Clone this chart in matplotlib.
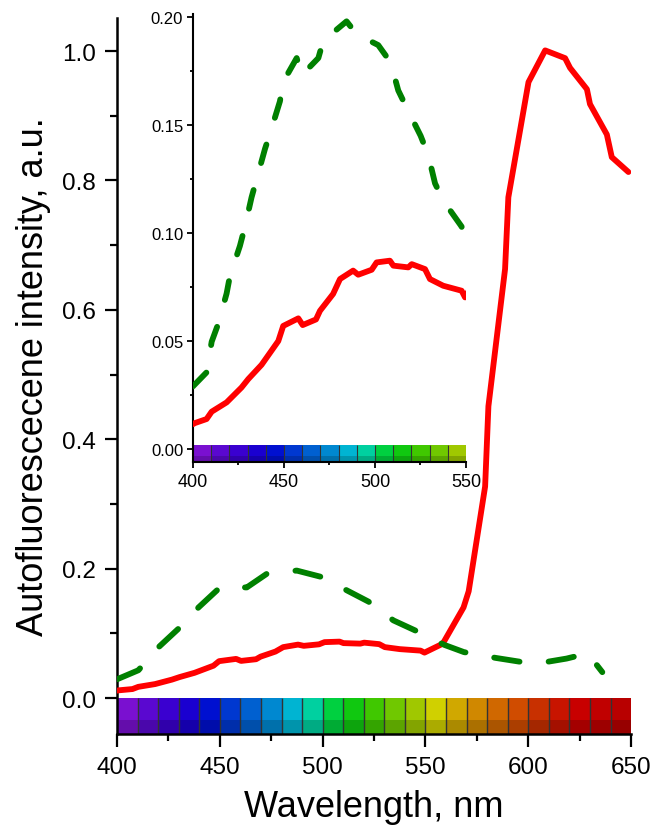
import numpy as np
import matplotlib
matplotlib.use("Agg")
import matplotlib.pyplot as plt
from matplotlib.ticker import MultipleLocator, FormatStrFormatter
from matplotlib.colors import to_rgb

plt.rcParams["font.family"] = ["Liberation Sans", "DejaVu Sans"]

# autofluorescence spectrum, solid red
red_nm = [400, 401, 407.5, 410.3, 418.5, 426.7, 430.4, 437.7, 446.9, 449.6,
          457.9, 460.3, 467.6, 469.8, 477, 480.8, 488, 490.8, 498.2, 500.9,
          508.2, 510.1, 518.3, 520.2, 527.5, 530.2, 537.5, 547.6, 549.5,
          558.4, 568.5, 571, 579, 580.6, 588.7, 590.3, 600.1, 608.2, 617.9,
          620.3, 628.5, 630, 638.2, 640.6, 648.7]
red_val = [0.0115, 0.012, 0.0139, 0.0173, 0.0216, 0.0285, 0.0324, 0.039, 0.050, 0.057,
           0.0605, 0.0574, 0.060, 0.064, 0.0718, 0.0787, 0.0826, 0.0807, 0.083, 0.0864,
           0.0872, 0.0849, 0.0841, 0.0856, 0.0833, 0.0787, 0.0756, 0.0733, 0.0702,
           0.084, 0.140, 0.165, 0.327, 0.451, 0.663, 0.774, 0.952, 1.001, 0.989,
           0.974, 0.941, 0.918, 0.871, 0.836, 0.813]

# second spectrum, dashed green (full range)
green_nm = [400, 410.4, 419.3, 429.8, 439.6, 450.1, 463.1, 472.8, 487.4, 499.6,
            512, 522.3, 534.4, 546, 559.3, 568.7, 584.2, 596.2, 607.4, 618.6,
            628.9, 636]
green_val = [0.029, 0.043, 0.076, 0.107, 0.140, 0.171, 0.171, 0.192, 0.197, 0.187,
             0.166, 0.149, 0.120, 0.103, 0.082, 0.071, 0.062, 0.056, 0.055, 0.061,
             0.069, 0.040]

# same spectrum at finer sampling, 400-550 nm
green_fine_nm = [400, 407.5, 410.3, 413.9, 418.5, 420.3, 425.8, 428.6, 432.2, 435,
                 439.6, 442.7, 447.8, 449.6, 457, 459.7, 468.9, 471.6, 484.4, 490,
                 501.8, 508.6, 512.8, 517.4, 525.1, 529.3, 533, 537.5, 547.6, 550]
green_fine_val = [0.029, 0.0355, 0.0497, 0.058, 0.072, 0.080, 0.094, 0.103, 0.1165, 0.125,
                  0.139, 0.147, 0.161, 0.170, 0.181, 0.173, 0.181, 0.189, 0.198, 0.192,
                  0.187, 0.179, 0.166, 0.158, 0.145, 0.136, 0.123, 0.115, 0.103, 0.094]

# spectral strip, one cell per 10 nm
strip_nm = np.arange(400, 650, 10)
strip_colors = ["#7A10D0", "#5A08D0", "#3A00D0", "#1A00D0", "#0010D0",
                "#0038D0", "#0060D0", "#0088D0", "#00B4D2", "#00D0A0",
                "#00D040", "#10C810", "#40C800", "#70C800", "#A0C800",
                "#D0D000", "#D0A800", "#D08800", "#D06800", "#D04C00",
                "#C83000", "#C81400", "#C80000", "#C00000", "#B80000"]


def draw_strip(ax, n, top, bottom, lw):
    split = top + (bottom - top) * 0.62
    dark = [tuple(c * 0.82 for c in to_rgb(h)) for h in strip_colors[:n]]
    ax.bar(strip_nm[:n], split - top, bottom=top, width=10, align="edge",
           color=strip_colors[:n], linewidth=0, zorder=1)
    ax.bar(strip_nm[:n], bottom - split, bottom=split, width=10, align="edge",
           color=dark, linewidth=0, zorder=1)
    ax.vlines(strip_nm[1:n], bottom, top, color="#333333", lw=lw, zorder=1.5)


def style_axes(ax, width, major, minor, tick_w):
    for s in ("top", "right"):
        ax.spines[s].set_visible(False)
    for s in ("left", "bottom"):
        ax.spines[s].set_linewidth(width)
    ax.tick_params(which="major", direction="out", length=major, width=tick_w)
    ax.tick_params(which="minor", direction="out", length=minor, width=tick_w)


fig = plt.figure(figsize=(6.54, 8.28), dpi=100)

ax = fig.add_axes([0.179, 0.1123, 0.786, 0.8647])
ax.set_xlim(400, 650)
ax.set_ylim(-0.0556, 1.051)
draw_strip(ax, 25, 0, -0.0556, 1.0)
ax.plot(red_nm, red_val, color="#FF0000", lw=4.2, solid_joinstyle="round",
        solid_capstyle="round", zorder=3)
ax.plot(green_nm, green_val, color="#008000", lw=4.2, dashes=(4.4, 5.0),
        dash_capstyle="round", zorder=3)
style_axes(ax, 1.8, 9, 5, 1.6)
ax.xaxis.set_major_locator(MultipleLocator(50))
ax.xaxis.set_minor_locator(MultipleLocator(25))
ax.yaxis.set_major_locator(MultipleLocator(0.2))
ax.yaxis.set_minor_locator(MultipleLocator(0.1))
ax.yaxis.set_major_formatter(FormatStrFormatter("%.1f"))
ax.tick_params(axis="both", labelsize=17.5)
ax.tick_params(axis="x", pad=7)
ax.tick_params(axis="y", pad=6)
ax.set_xlabel("Wavelength, nm", fontsize=26, labelpad=8)
ax.set_ylabel("Autofluorescecene intensity, a.u.", fontsize=26, labelpad=8)

# inset: blue-green part of the range
ins = fig.add_axes([0.295, 0.4408, 0.4175, 0.5411])
ins.set_facecolor("none")
ins.set_xlim(400, 550)
ins.set_ylim(-0.006, 0.2014)
draw_strip(ins, 15, 0.00185, -0.006, 0.8)
ins.plot(red_nm, red_val, color="#FF0000", lw=4.2, solid_joinstyle="round",
         solid_capstyle="round", zorder=3)
ins.plot(green_fine_nm, green_fine_val, color="#008000", lw=4.2, dashes=(3.3, 4.8),
         dash_capstyle="round", zorder=3)
style_axes(ins, 1.5, 4, 2.5, 1.3)
ins.xaxis.set_major_locator(MultipleLocator(50))
ins.xaxis.set_minor_locator(MultipleLocator(25))
ins.yaxis.set_major_locator(MultipleLocator(0.05))
ins.yaxis.set_minor_locator(MultipleLocator(0.025))
ins.yaxis.set_major_formatter(FormatStrFormatter("%.2f"))
ins.tick_params(axis="y", labelsize=12, pad=3)
ins.tick_params(axis="x", labelsize=13, pad=4)

fig.savefig("out.png", dpi=100)
